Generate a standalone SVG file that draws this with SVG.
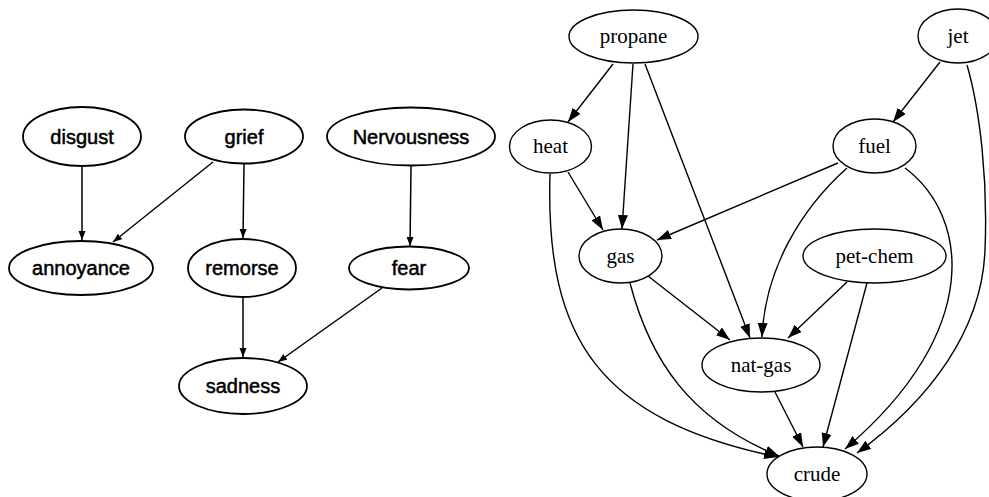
<svg xmlns="http://www.w3.org/2000/svg" width="989" height="497" viewBox="0 0 989 497">
<defs>
<style>
.n ellipse{fill:#fff;stroke:#000;stroke-width:1.4}
.l ellipse{stroke-width:1.8}
.l text{font-family:"Liberation Sans",Arial,sans-serif;font-size:20px;text-anchor:middle;fill:#000;stroke:#000;stroke-width:0.5}
.r text{font-family:"Liberation Serif","Times New Roman",serif;font-size:21px;text-anchor:middle;fill:#000}
.e path{fill:none;stroke:#000;stroke-width:1.4}
.el path{marker-end:url(#sa);stroke-width:1.5}
.er path{marker-end:url(#ba)}
</style>
<marker id="sa" markerUnits="userSpaceOnUse" markerWidth="10" markerHeight="8" refX="9" refY="3.5" orient="auto"><path d="M0,0 L9,3.5 L0,7 z" fill="#000"/></marker>
<marker id="ba" markerUnits="userSpaceOnUse" markerWidth="15" markerHeight="11" refX="14" refY="5" orient="auto"><path d="M0,0 L14,5 L0,10 z" fill="#000"/></marker>
</defs>
<rect width="989" height="497" fill="#fff"/>
<g id="edges" class="e">
<g class="el">
<path d="M82,166 L82,240"/>
<path d="M213,162 L113,242"/>
<path d="M244,164 L243,238"/>
<path d="M411,166 L410,246"/>
<path d="M243,297 L243,357"/>
<path d="M382,288 L278,362"/>
</g>
<g class="er">
<path d="M613,64 L568,122"/>
<path d="M633,64 L622,229"/>
<path d="M645,64 L750,338"/>
<path d="M568,172 L603,230"/>
<path d="M550,174 C545,340 600,420 778,457"/>
<path d="M648,276 L730,340"/>
<path d="M630,283 C650,360 690,420 779,456"/>
<path d="M838,163 L657,240"/>
<path d="M847,168 C800,210 765,270 762,337"/>
<path d="M905,168 C968,215 985,330 845,449"/>
<path d="M940,62 L893,122"/>
<path d="M967,65 C980,110 988,180 985,250 C982,330 930,400 857,453"/>
<path d="M847,282 L788,338"/>
<path d="M867,283 L823,447"/>
<path d="M775,392 L803,447"/>
</g>
</g>
<g class="n l">
<g id="disgust"><ellipse cx="82" cy="136.5" rx="59" ry="29.5"/><text x="82" y="143.5">disgust</text></g>
<g id="grief"><ellipse cx="244" cy="136.5" rx="59" ry="27"/><text x="244" y="143.5">grief</text></g>
<g id="Nervousness"><ellipse cx="411" cy="136.5" rx="84" ry="29"/><text x="411" y="143.5">Nervousness</text></g>
<g id="annoyance"><ellipse cx="81" cy="268" rx="72" ry="27"/><text x="81" y="275">annoyance</text></g>
<g id="remorse"><ellipse cx="242" cy="268" rx="54" ry="29"/><text x="242" y="275">remorse</text></g>
<g id="fear"><ellipse cx="409" cy="268" rx="60" ry="21.5"/><text x="409" y="275">fear</text></g>
<g id="sadness"><ellipse cx="243" cy="386" rx="64" ry="28"/><text x="243" y="393">sadness</text></g>
</g>
<g class="n r">
<g id="propane"><ellipse cx="633.5" cy="36.5" rx="64.5" ry="26.5"/><text x="633.5" y="43">propane</text></g>
<g id="jet"><ellipse cx="958" cy="36" rx="40" ry="27"/><text x="958" y="42.5">jet</text></g>
<g id="heat"><ellipse cx="550.5" cy="146.5" rx="41" ry="26.5"/><text x="550.5" y="153">heat</text></g>
<g id="fuel"><ellipse cx="874.5" cy="146" rx="41.5" ry="27"/><text x="874.5" y="152.5">fuel</text></g>
<g id="gas"><ellipse cx="620.5" cy="256" rx="41.5" ry="27"/><text x="620.5" y="262.5">gas</text></g>
<g id="pet-chem"><ellipse cx="874.5" cy="256" rx="71.5" ry="27"/><text x="874.5" y="262.5">pet-chem</text></g>
<g id="nat-gas"><ellipse cx="761" cy="365" rx="59" ry="27"/><text x="761" y="371.5">nat-gas</text></g>
<g id="crude"><ellipse cx="817" cy="474" rx="50" ry="27"/><text x="817" y="480.5">crude</text></g>
</g>
</svg>
